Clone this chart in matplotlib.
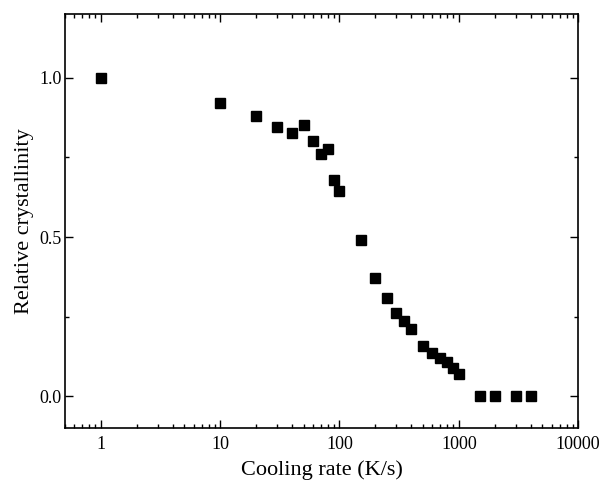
import numpy as np
import matplotlib
matplotlib.use("Agg")
import matplotlib.pyplot as plt
from matplotlib.ticker import LogLocator, MultipleLocator, FixedLocator, FixedFormatter

plt.rcParams['font.family'] = ['Liberation Serif', 'DejaVu Serif']

# cooling rate (K/s) and relative crystallinity
rate = [1, 10, 20, 30, 40, 50, 60, 70, 80, 90, 100, 150, 200, 250, 300, 350,
        400, 500, 600, 700, 800, 900, 1000, 1500, 2000, 3000, 4000]
cryst = [1.0, 0.921, 0.879, 0.844, 0.826, 0.852, 0.801, 0.762, 0.776, 0.680,
         0.644, 0.491, 0.373, 0.308, 0.262, 0.236, 0.210, 0.158, 0.135, 0.121,
         0.109, 0.090, 0.069, 0.0, 0.0, 0.0, 0.0]

xticks = [1, 10, 100, 1000, 10000]
xticklabels = ['1', '10', '100', '1000', '10000']

fig = plt.figure(figsize=(6.01, 4.86), dpi=100)
ax = fig.add_axes([0.108, 0.119, 0.854, 0.852])

ax.plot(rate, cryst, 's', color='black', markersize=6.5, linestyle='none')

ax.set_xscale('log')
ax.set_xlim(0.5, 10000)
ax.set_ylim(-0.1, 1.2)

ax.xaxis.set_major_locator(FixedLocator(xticks))
ax.xaxis.set_major_formatter(FixedFormatter(xticklabels))
ax.xaxis.set_minor_locator(LogLocator(base=10, subs=np.arange(2, 10), numticks=20))
ax.yaxis.set_major_locator(MultipleLocator(0.5))
ax.yaxis.set_minor_locator(MultipleLocator(0.25))
ax.yaxis.set_major_formatter(plt.FormatStrFormatter('%.1f'))

ax.tick_params(which='both', direction='in', top=True, right=True,
               labelsize=13, width=1.0)
ax.tick_params(which='major', length=6)
ax.tick_params(which='minor', length=3)
ax.tick_params(axis='x', pad=6)
ax.tick_params(axis='y', pad=2.5)
for s in ax.spines.values():
    s.set_linewidth(1.2)

ax.set_xlabel('Cooling rate (K/s)', fontsize=16, labelpad=5)
ax.set_ylabel('Relative crystallinity', fontsize=16, labelpad=4)

fig.savefig('out.png', dpi=100)
